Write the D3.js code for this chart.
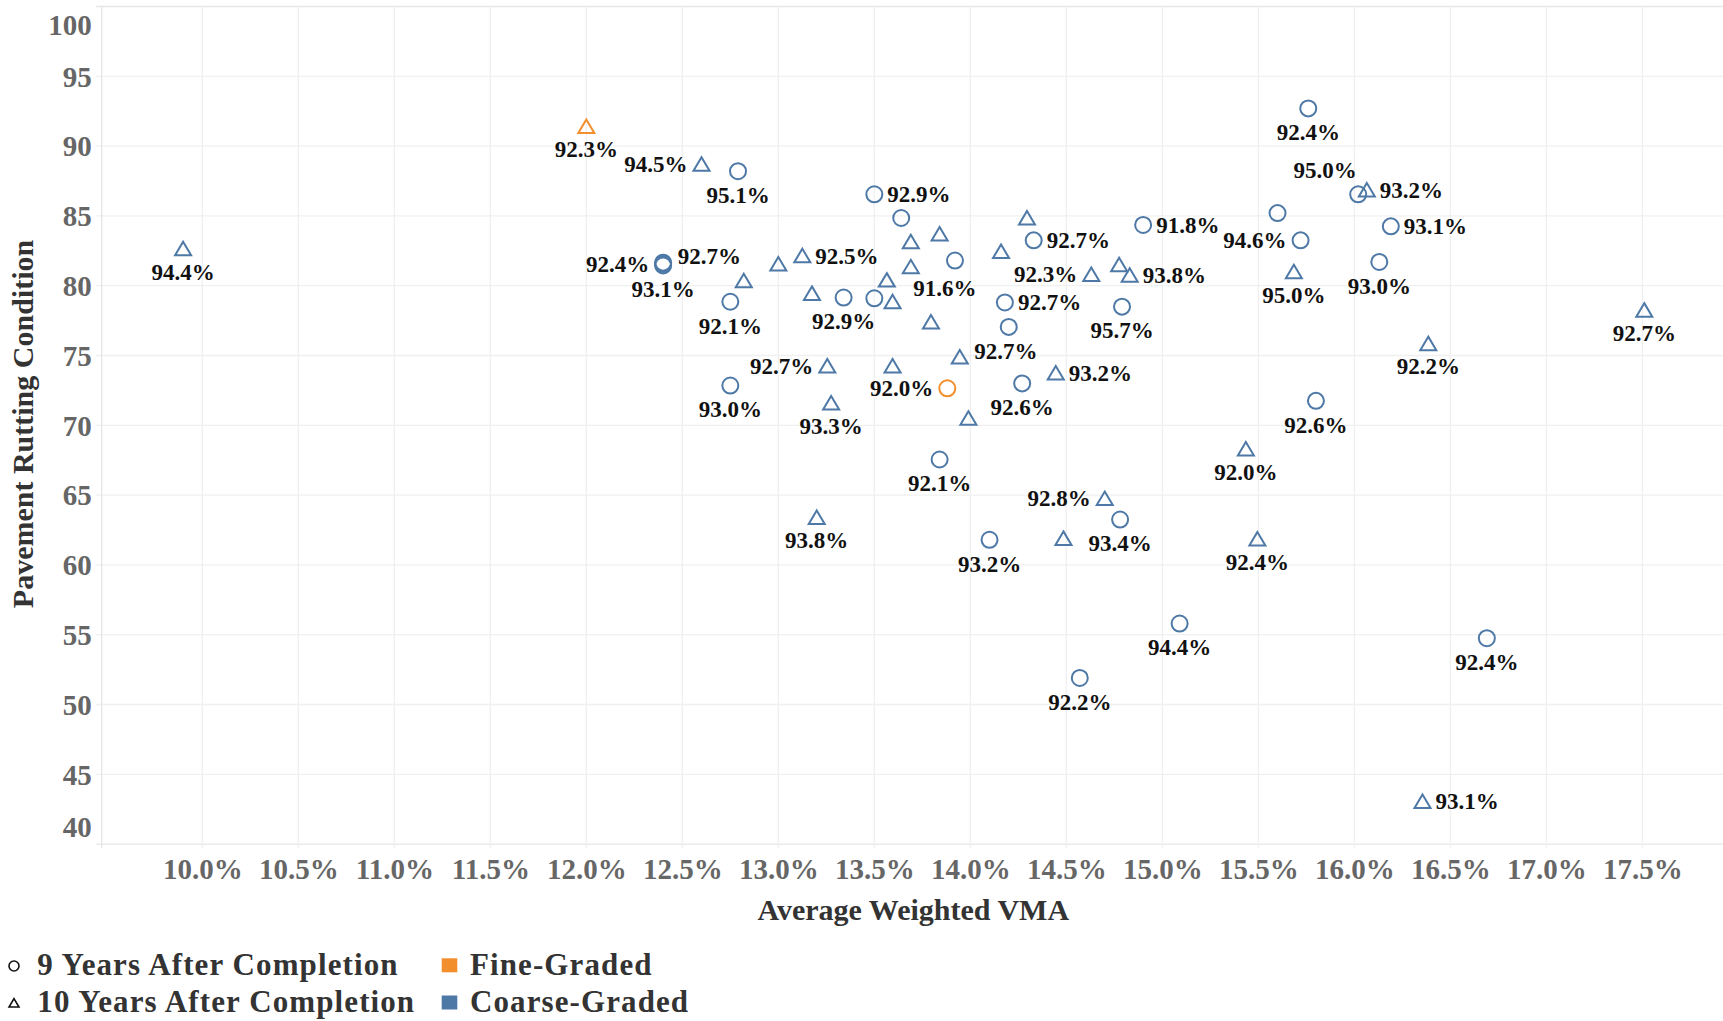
<!DOCTYPE html>
<html>
<head>
<meta charset="utf-8">
<script src="https://cdn.jsdelivr.net/npm/d3@7"></script>
<style>
  html, body { margin: 0; padding: 0; background: #fff; }
  svg { display: block; }
  text { font-family: "Liberation Serif", "Times New Roman", serif; font-weight: bold; }
</style>
</head>
<body>
<svg id="chart" width="1723" height="1021"></svg>
<script>
// Axis ticks
const xTicks = [10.0, 10.5, 11.0, 11.5, 12.0, 12.5, 13.0, 13.5, 14.0, 14.5, 15.0, 15.5, 16.0, 16.5, 17.0, 17.5];
const yTicks = [40, 45, 50, 55, 60, 65, 70, 75, 80, 85, 90, 95, 100];

// 9 years after completion, coarse-graded mixes
// VMA (%), pavement rutting condition, density label (%), label side
const nineCoarseVMA = [12.79, 13.50, 13.64, 13.92, 14.33, 14.18, 14.20, 13.34, 13.50, 12.75,
                       12.75, 12.40, 12.40, 12.40, 14.27, 13.84, 14.10, 14.78, 14.57, 15.09,
                       14.79, 14.90, 15.60, 15.72, 15.76, 16.02, 16.19, 16.13, 15.80, 16.69];
const nineCoarseRutting = [88.2, 86.55, 84.85, 81.8, 83.25, 78.8, 77.05, 79.15, 79.1, 78.85,
                           72.85, 81.65, 81.55, 81.45, 73.0, 67.55, 61.8, 63.25, 51.9, 55.8,
                           78.5, 84.35, 85.2, 83.25, 92.7, 86.55, 84.25, 81.7, 71.75, 54.75];
const nineCoarseDensity = [95.1, 92.9, null, 91.6, 92.7, 92.7, null, 92.9, null, 92.1,
                           93.0, 92.7, 92.4, 93.1, 92.6, 92.1, 93.2, 93.4, 92.2, 94.4,
                           95.7, 91.8, null, 94.6, 92.4, 95.0, 93.1, 93.0, 92.6, 92.4];
const nineCoarseSide = ["b", "r", "", "bl", "r", "r", "", "b", "", "b",
                        "b", "ru", "l", "b", "b", "b", "b", "b", "b", "b",
                        "b", "r", "", "l", "b", "al", "r", "b", "b", "b"];

// 9 years after completion, fine-graded mixes
const nineFineVMA = [13.88];
const nineFineRutting = [72.65];
const nineFineDensity = [92.0];
const nineFineSide = ["l"];

// 10 years after completion, coarse-graded mixes
const tenCoarseVMA = [9.90, 12.60, 13.69, 13.84, 13.69, 13.565, 13.595, 13.175, 13.00, 13.125,
                      12.82, 13.255, 13.275, 13.595, 13.945, 13.99, 13.795, 14.16, 14.295, 14.63,
                      14.775, 14.83, 14.445, 14.70, 14.485, 13.20, 15.685, 16.065, 17.51, 16.385,
                      15.435, 15.495, 16.355];
const tenCoarseRutting = [82.65, 88.7, 83.15, 83.7, 81.35, 80.4, 78.85, 79.45, 81.55, 82.15,
                          80.35, 74.25, 71.6, 74.25, 74.9, 70.5, 77.4, 82.45, 84.85, 80.8,
                          81.5, 80.75, 73.75, 64.75, 61.9, 63.4, 81.0, 86.85, 78.25, 75.85,
                          68.3, 61.85, 43.05];
const tenCoarseDensity = [94.4, 94.5, null, null, null, null, null, null, null, 92.5,
                          null, 92.7, 93.3, null, 92.7, null, null, null, null, 92.3,
                          null, 93.8, 93.2, 92.8, null, 93.8, 95.0, 93.2, 92.7, 92.2,
                          92.0, 92.4, 93.1];
const tenCoarseSide = ["b", "l", "", "", "", "", "", "", "", "r",
                       "", "l", "b", "", "ru", "", "", "", "", "l",
                       "", "r", "r", "l", "", "b", "b", "r", "b", "b",
                       "b", "b", "r"];

// 10 years after completion, fine-graded mixes
const tenFineVMA = [12.00];
const tenFineRutting = [91.4];
const tenFineDensity = [92.3];
const tenFineSide = ["b"];

const gradeColor = { fine: "#f28e2b", coarse: "#4e79a7" };

function rows(vma, rut, dens, side, shape, grade) {
  return vma.map((v, i) => ({ vma: v, rut: rut[i], dens: dens[i], side: side[i], shape, grade }));
}
const points = [
  ...rows(nineCoarseVMA, nineCoarseRutting, nineCoarseDensity, nineCoarseSide, "circle", "coarse"),
  ...rows(nineFineVMA, nineFineRutting, nineFineDensity, nineFineSide, "circle", "fine"),
  ...rows(tenCoarseVMA, tenCoarseRutting, tenCoarseDensity, tenCoarseSide, "triangle", "coarse"),
  ...rows(tenFineVMA, tenFineRutting, tenFineDensity, tenFineSide, "triangle", "fine")
];

const svg = d3.select("#chart");
const W = 1723;
const plotLeft = 101.7, plotTop = 6.5, plotBottom = 844.1;

const x = d3.scaleLinear().domain([9.476, 17.92]).range([plotLeft, W]);
const y = d3.scaleLinear().domain([40, 100]).range([plotBottom, plotTop]);

// grid
const grid = svg.append("g");
grid.selectAll("line.h").data(yTicks).join("line")
  .attr("x1", 96).attr("x2", W)
  .attr("y1", d => y(d)).attr("y2", d => y(d))
  .attr("stroke", d => (d === 100 || d === 40) ? "#e6e6e6" : "#f0f0f0")
  .attr("stroke-width", 1.3);
grid.selectAll("line.v").data(xTicks).join("line")
  .attr("x1", d => x(d)).attr("x2", d => x(d))
  .attr("y1", plotTop).attr("y2", plotBottom + 4)
  .attr("stroke", "#f0f0f0").attr("stroke-width", 1.3);
grid.append("line")
  .attr("x1", plotLeft).attr("x2", plotLeft)
  .attr("y1", plotTop).attr("y2", plotBottom + 4)
  .attr("stroke", "#e6e6e6").attr("stroke-width", 1.3);

// y axis
const yAxis = svg.append("g")
  .attr("transform", `translate(${plotLeft},0)`)
  .call(d3.axisLeft(y).tickValues(yTicks).tickSize(0).tickPadding(10).tickFormat(d3.format("d")));
yAxis.select(".domain").remove();
yAxis.selectAll("text")
  .attr("font-family", "Liberation Serif, Times New Roman, serif")
  .attr("font-weight", "bold")
  .attr("font-size", 29)
  .attr("fill", "#666")
  .attr("dy", "0.34em");
yAxis.selectAll(".tick").filter(d => d === 100).select("text").attr("y", 17.7);
yAxis.selectAll(".tick").filter(d => d === 40).select("text").attr("y", -17.4);

// x axis
const xAxis = svg.append("g")
  .attr("transform", `translate(0,${plotBottom})`)
  .call(d3.axisBottom(x).tickValues(xTicks).tickSize(0).tickPadding(14).tickFormat(d => d.toFixed(1) + "%"));
xAxis.select(".domain").remove();
xAxis.selectAll("text")
  .attr("font-family", "Liberation Serif, Times New Roman, serif")
  .attr("font-weight", "bold")
  .attr("font-size", 29)
  .attr("fill", "#666");

// axis titles
svg.append("text")
  .attr("x", 913.3).attr("y", 920)
  .attr("text-anchor", "middle")
  .attr("font-size", 30).attr("fill", "#333")
  .text("Average Weighted VMA");
svg.append("text")
  .attr("transform", "translate(33.3,424) rotate(-90)")
  .attr("text-anchor", "middle")
  .attr("font-size", 30).attr("fill", "#333")
  .text("Pavement Rutting Condition");

// marks
const triPath = (s) => `M0,${-7 * s}L${8 * s},${6.5 * s}L${-8 * s},${6.5 * s}Z`;
const marks = svg.append("g");
points.forEach(p => {
  const cx = x(p.vma), cy = y(p.rut);
  if (p.shape === "circle") {
    marks.append("circle").attr("cx", cx).attr("cy", cy).attr("r", 8)
      .attr("fill", "none").attr("stroke", gradeColor[p.grade]).attr("stroke-width", 2);
  } else {
    marks.append("path").attr("d", triPath(1))
      .attr("transform", `translate(${cx},${cy})`)
      .attr("fill", "none").attr("stroke", gradeColor[p.grade]).attr("stroke-width", 2)
      .attr("stroke-linejoin", "miter");
  }
});

// density labels
const place = {
  b:  (p) => ({ dx: 0, dy: p.shape === "circle" ? 24 : 23, anchor: "middle" }),
  bl: () => ({ dx: -10, dy: 28, anchor: "middle" }),
  r:  () => ({ dx: 13, dy: 0, anchor: "start" }),
  ru: () => ({ dx: 14.5, dy: -6, anchor: "start" }),
  l:  () => ({ dx: -14, dy: 0, anchor: "end" }),
  al: () => ({ dx: -33, dy: -24, anchor: "middle" })
};
const labels = svg.append("g");
points.filter(p => p.dens != null).forEach(p => {
  const o = place[p.side](p);
  labels.append("text")
    .attr("x", x(p.vma) + o.dx).attr("y", y(p.rut) + o.dy)
    .attr("dy", "0.34em")
    .attr("text-anchor", o.anchor)
    .attr("font-size", 23).attr("fill", "#111")
    .text(p.dens.toFixed(1) + "%");
});

// legend
const lg = svg.append("g");
lg.append("circle").attr("cx", 14).attr("cy", 966).attr("r", 5)
  .attr("fill", "none").attr("stroke", "#111").attr("stroke-width", 1.6);
lg.append("path").attr("d", triPath(0.62)).attr("transform", "translate(14,1003)")
  .attr("fill", "none").attr("stroke", "#111").attr("stroke-width", 1.6);
const legendText = [
  { label: "9 Years After Completion", x: 37.3, y: 975 },
  { label: "10 Years After Completion", x: 37.3, y: 1011.7 },
  { label: "Fine-Graded", x: 470, y: 975 },
  { label: "Coarse-Graded", x: 470, y: 1011.7 }
];
lg.selectAll("text").data(legendText).join("text")
  .attr("x", d => d.x).attr("y", d => d.y)
  .attr("font-size", 31).attr("letter-spacing", 1.1).attr("fill", "#333")
  .text(d => d.label);
lg.append("rect").attr("x", 441.7).attr("y", 958.3).attr("width", 15.6).attr("height", 14)
  .attr("fill", gradeColor.fine);
lg.append("rect").attr("x", 441.7).attr("y", 995.5).attr("width", 15.6).attr("height", 14)
  .attr("fill", gradeColor.coarse);
</script>
</body>
</html>
